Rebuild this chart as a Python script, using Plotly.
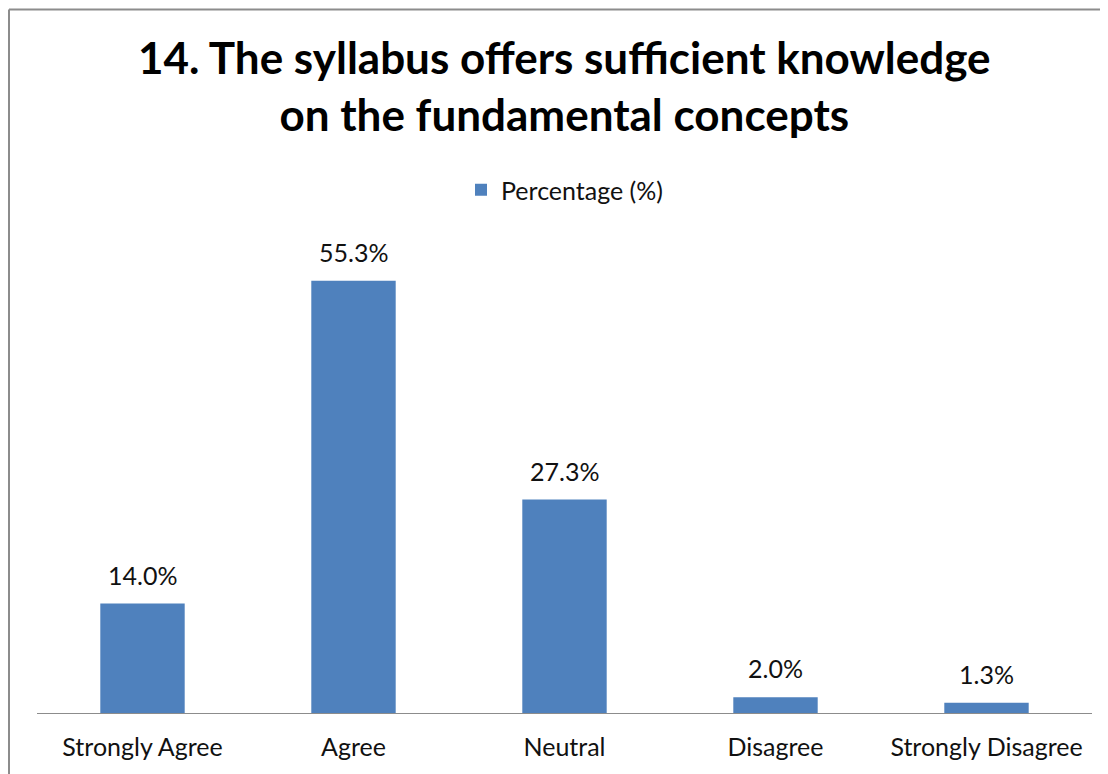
import plotly.graph_objects as go

categories = ["Strongly Agree", "Agree", "Neutral", "Disagree", "Strongly Disagree"]
percentages = [14.0, 55.3, 27.3, 2.0, 1.3]
series_name = "Percentage (%)"
title_lines = ["14. The syllabus offers sufficient knowledge", "on the fundamental concepts"]

FONT = "Lato"
W, H = 1100, 766
ML, MR, MT, MB = 29, 16, 236, 61
pw, ph = W - ML - MR, H - MT - MB
plot_bottom = H - MB  # figure y of plot bottom


def py(fig_y):
    """figure pixel y (from top) -> paper y"""
    return (plot_bottom - fig_y) / ph


def px(fig_x):
    return (fig_x - ML) / pw


fig = go.Figure()
fig.add_trace(go.Bar(
    x=categories, y=percentages, name=series_name,
    marker=dict(color="#4F81BD", line=dict(width=0)),
    width=0.4, showlegend=True,
))

for c, v in zip(categories, percentages):
    fig.add_annotation(x=c, y=v, text=f"{v:.1f}%", showarrow=False,
                       yanchor="bottom", yshift=12,
                       font=dict(family=FONT, size=25, color="#111111"))

fig.add_annotation(text="<b>" + "<br>".join(title_lines) + "</b>",
                   xref="paper", yref="paper", x=px(556), y=py(77),
                   xanchor="center", yanchor="middle", showarrow=False,
                   font=dict(family=FONT, size=44, color="black"))

# border: top and left edges only
fig.add_shape(type="line", xref="paper", yref="paper",
              x0=px(1), x1=px(W), y0=py(1.5), y1=py(1.5),
              line=dict(color="#8C8C8C", width=2))
fig.add_shape(type="line", xref="paper", yref="paper",
              x0=px(1), x1=px(1), y0=py(1.5), y1=py(H),
              line=dict(color="#8C8C8C", width=2))

fig.update_layout(
    width=W, height=H,
    margin=dict(l=ML, r=MR, t=MT, b=MB),
    paper_bgcolor="white", plot_bgcolor="white",
    legend=dict(orientation="h", x=px(557), xanchor="center", y=py(182),
                yanchor="middle", font=dict(family=FONT, size=25, color="#111111"),
                bgcolor="rgba(0,0,0,0)"),
    xaxis=dict(showline=True, linecolor="#8C8C8C", linewidth=1, ticks="",
               ticklabelstandoff=12, fixedrange=True,
               tickfont=dict(family=FONT, size=25, color="#111111"), showgrid=False),
    yaxis=dict(range=[0, 60], visible=False, showgrid=False, fixedrange=True),
    showlegend=True,
)

fig.write_html("out.html", config={"displayModeBar": False},
               post_script="document.body.style.overflow='hidden';")
